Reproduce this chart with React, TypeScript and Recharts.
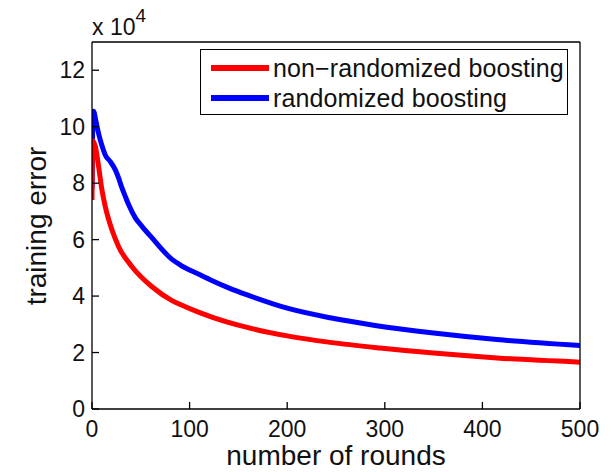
import React from "react";
import { LineChart, Line, XAxis, YAxis } from "recharts";

// Rounds and training error
const redRounds = [0, 0.8, 3.4, 6.8, 10.2, 13.6, 20.5, 27.3, 41, 61.5, 82, 90.5, 109, 125, 159, 200, 244, 295, 350, 415, 500];
const redErrors = [74000, 95000, 93000, 85800, 77600, 71700, 63400, 57500, 50400, 43300, 38400, 37000, 34300, 32300, 28900, 25900, 23600, 21600, 19800, 18100, 16600];

const blueRounds = [0, 1, 1.6, 4, 6.8, 10, 13.6, 18.8, 23.9, 27.3, 30.7, 34.1, 37.5, 44.4, 51.2, 61.5, 82, 90.5, 109, 121, 140, 159, 200, 244, 290, 350, 415, 500];
const blueErrors = [78000, 104000, 105500, 102000, 97500, 93500, 90000, 87600, 84700, 81800, 78300, 75300, 72400, 67700, 64700, 60600, 53000, 51000, 47800, 45800, 42900, 40400, 35700, 32300, 29600, 26900, 24600, 22500];

const xTicks = [0, 100, 200, 300, 400, 500];
const yTicks = [0, 20000, 40000, 60000, 80000, 100000, 120000];

const seriesNames = ["non\u2212randomized boosting", "randomized boosting"];
const seriesColors = ["#ff0000", "#0000ff"];

const redData = redRounds.map((r, i) => ({ round: r, error: redErrors[i] }));
const blueData = blueRounds.map((r, i) => ({ round: r, error: blueErrors[i] }));

const FONT = "'Liberation Sans', Arial, Helvetica, sans-serif";
const tickStyle = { fontSize: 23, fill: "#111", fontFamily: FONT };

export default function App() {
  return (
    <div style={{ position: "absolute", left: 0, top: 0, width: 611, height: 472, background: "#fff", fontFamily: FONT }}>
      <LineChart width={611} height={472} margin={{ top: 41, right: 30, bottom: 62, left: 91 }}>
        <XAxis
          xAxisId="bottom"
          type="number"
          dataKey="round"
          domain={[0, 500]}
          ticks={xTicks}
          height={1}
          tickSize={-7}
          tickMargin={19}
          tick={tickStyle}
          stroke="#000"
          strokeWidth={1.3}
          allowDataOverflow
        />
        <XAxis
          xAxisId="top"
          orientation="top"
          type="number"
          dataKey="round"
          domain={[0, 500]}
          ticks={xTicks}
          height={1}
          tickSize={-7}
          tick={false}
          stroke="#000"
          strokeWidth={1.3}
        />
        <YAxis
          yAxisId="left"
          type="number"
          domain={[0, 130000]}
          ticks={yTicks}
          width={1}
          tickSize={-7}
          tickMargin={14}
          tick={tickStyle}
          tickFormatter={(v: number) => String(v / 10000)}
          stroke="#000"
          strokeWidth={1.3}
          allowDataOverflow
        />
        <YAxis
          yAxisId="right"
          orientation="right"
          type="number"
          domain={[0, 130000]}
          ticks={yTicks}
          width={1}
          tickSize={-7}
          tick={false}
          stroke="#000"
          strokeWidth={1.3}
        />
        <Line
          xAxisId="bottom"
          yAxisId="left"
          data={blueData}
          dataKey="error"
          type="monotone"
          stroke={seriesColors[1]}
          strokeWidth={5}
          dot={false}
          isAnimationActive={false}
        />
        <Line
          xAxisId="bottom"
          yAxisId="left"
          data={redData}
          dataKey="error"
          type="monotone"
          stroke={seriesColors[0]}
          strokeWidth={5}
          dot={false}
          isAnimationActive={false}
        />
      </LineChart>

      {/* exponent label */}
      <div style={{ position: "absolute", left: 92, top: 7, fontSize: 23, color: "#111", whiteSpace: "nowrap", lineHeight: "26px" }}>
        x 10<sup style={{ fontSize: 19, position: "relative", top: -4 }}>4</sup>
      </div>

      {/* legend */}
      <div
        style={{
          position: "absolute",
          left: 200,
          top: 49,
          width: 368,
          height: 66,
          border: "1.3px solid #000",
          background: "#fff",
          boxSizing: "border-box",
        }}
      >
        {seriesNames.map((name, i) => (
          <div
            key={name}
            style={{ position: "absolute", left: 10, top: 4 + i * 30, height: 28, display: "flex", alignItems: "center", whiteSpace: "nowrap" }}
          >
            <div style={{ width: 58, height: 6, background: seriesColors[i] }} />
            <span style={{ marginLeft: 4, fontSize: 25, color: "#111", letterSpacing: 0.1 }}>{name}</span>
          </div>
        ))}
      </div>

      {/* axis titles */}
      <div style={{ position: "absolute", left: 0, width: 672, top: 440, textAlign: "center", fontSize: 28, color: "#111", lineHeight: "32px" }}>
        number of rounds
      </div>
      <div
        style={{
          position: "absolute",
          left: 37,
          top: 226,
          transform: "translate(-50%, -50%) rotate(-90deg)",
          fontSize: 28,
          color: "#111",
          whiteSpace: "nowrap",
          lineHeight: "32px",
        }}
      >
        training error
      </div>
    </div>
  );
}
